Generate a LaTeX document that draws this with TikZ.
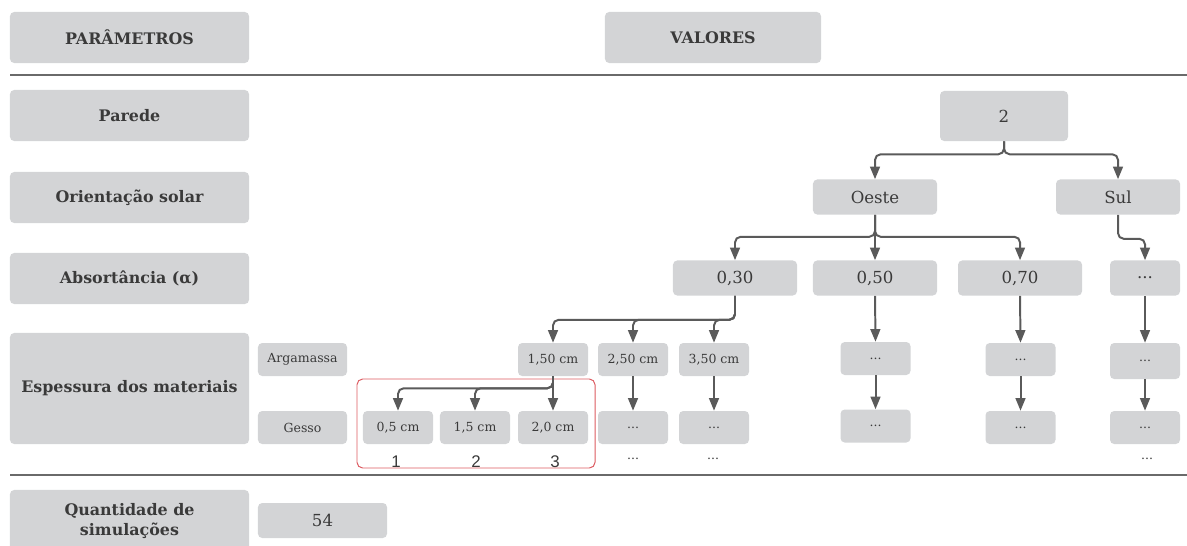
\documentclass[tikz,border=0pt]{standalone}
\usepackage{fontspec}
\setmainfont{DejaVu Serif}
\newfontfamily\numfont{Liberation Sans}
\usetikzlibrary{arrows.meta}
\definecolor{boxgray}{HTML}{D3D4D6}
\definecolor{txtgray}{HTML}{3A3A3A}
\definecolor{arrgray}{HTML}{5A5A5A}
\definecolor{linegray}{HTML}{6A6A6A}
\definecolor{redbox}{HTML}{DC5A60}

\begin{document}
\begin{tikzpicture}[x=0.025cm,y=-0.025cm,
      every node/.style={inner sep=0pt,text=txtgray},
      box/.style={fill=boxgray,rounded corners=3pt,align=center},
      parbox/.style={box,minimum width=5.975cm,minimum height=1.275cm,
        font=\fontsize{11.3}{13.6}\selectfont\bfseries},
      valbox/.style={box,minimum width=3.1cm,minimum height=0.875cm,font=\fontsize{11.8}{14}\selectfont},
      smallbox/.style={box,minimum width=1.75cm,minimum height=0.825cm,font=\fontsize{8.9}{10}\selectfont},
      link/.style={line width=1.4pt,draw=arrgray,rounded corners=4pt,-{Triangle[width=7pt,length=9pt]}},
      sepline/.style={line width=1.3pt,draw=linegray}]
  \useasboundingbox (0,0) rectangle (1187,545);
  \node[parbox] (par) at (129.5,37.5) {PARÂMETROS};
  \node[parbox,minimum width=5.4cm] (val) at (713,37.5) {VALORES};
  \draw[sepline] (10,75) -- (1187,75);
  \draw[sepline] (10,475) -- (1187,475);
  \node[parbox] (parede) at (129.5,115.5) {Parede};
  \node[parbox] (orient) at (129.5,197.5) {Orientação solar};
  \node[parbox] (absor) at (129.5,278.5) {Absortância (α)};
  \node[parbox,minimum height=2.775cm] (esp) at (129.5,388.5) {Espessura dos materiais};
  \node[parbox,minimum height=1.55cm] (qtd) at (129.5,521) {Quantidade de\\simulações};
  \node[valbox,minimum width=3.2cm,minimum height=1.25cm] (two) at (1004,116) {2};
  \node[valbox] (oeste) at (875,197) {Oeste};
  \node[valbox] (sul) at (1118,197) {Sul};
  \node[valbox] (a30) at (735,278) {0,30};
  \node[valbox] (a50) at (875,278) {0,50};
  \node[valbox] (a70) at (1020,278) {0,70};
  \node[valbox,minimum width=1.75cm] (adots) at (1145,278) {...};
  \node[smallbox,minimum width=2.225cm] (arg) at (302.5,359.5) {Argamassa};
  \node[smallbox,minimum width=2.225cm] (ges) at (302.5,427.5) {Gesso};
  \node[smallbox] (m150) at (553,359.5) {1,50 cm};
  \node[smallbox] (m250) at (633,359.5) {2,50 cm};
  \node[smallbox] (m350) at (714,359.5) {3,50 cm};
  \node[smallbox] (md50) at (875.5,358.5) {...};
  \node[smallbox] (md70) at (1020.5,359.5) {...};
  \node[smallbox,minimum height=0.9cm] (mdsul) at (1145,361) {...};
  \node[smallbox] (g05) at (398,427.5) {0,5 cm};
  \node[smallbox] (g15) at (475,427.5) {1,5 cm};
  \node[smallbox] (g20) at (553,427.5) {2,0 cm};
  \node[smallbox] (g250) at (633,427.5) {...};
  \node[smallbox] (g350) at (714,427.5) {...};
  \node[smallbox] (gd50) at (875.5,426) {...};
  \node[smallbox] (gd70) at (1020.5,427.5) {...};
  \node[smallbox] (gdsul) at (1145,427.5) {...};
  \node[font=\numfont\fontsize{12}{14}\selectfont] (n1) at (396,462) {1};
  \node[font=\numfont\fontsize{12}{14}\selectfont] (n2) at (476,462) {2};
  \node[font=\numfont\fontsize{12}{14}\selectfont] (n3) at (555,462) {3};
  \node[font=\fontsize{8.9}{10}\selectfont] (e1) at (633,459) {...};
  \node[font=\fontsize{8.9}{10}\selectfont] (e2) at (713,459) {...};
  \node[font=\fontsize{8.9}{10}\selectfont] (e3) at (1147,459) {...};
  \node[smallbox,minimum width=3.225cm,minimum height=0.875cm,font=\fontsize{11.8}{14}\selectfont] (q54) at (322.5,520.5) {54};
  \draw[redbox,line width=0.7pt,rounded corners=4pt] (357,379) rectangle (595,468);
  \draw[link] (two.south) -- ++(0,13) -| (oeste.north);
  \draw[link] (two.south) -- ++(0,13) -| (sul.north);
  \draw[link] (oeste.south) -- ++(0,22) -| (a30.north);
  \draw[link] (oeste.south) -- (a50.north);
  \draw[link] (oeste.south) -- ++(0,22) -| (a70.north);
  \draw[link] (sul.south) -- ++(0,24) -| (adots.north);
  \draw[link] (a30.south) -- ++(0,24) -| (m150.north);
  \draw[link] (a30.south) -- ++(0,24) -| (m250.north);
  \draw[link] (a30.south) -- ++(0,24) -| (m350.north);
  \draw[link] (a50.south) -- (md50.north);
  \draw[link] (a70.south) -- (md70.north);
  \draw[link] (adots.south) -- (mdsul.north);
  \draw[link] (m150.south) -- ++(0,12) -| (g05.north);
  \draw[link] (m150.south) -- ++(0,12) -| (g15.north);
  \draw[link] (m150.south) -- (g20.north);
  \draw[link] (m250.south) -- (g250.north);
  \draw[link] (m350.south) -- (g350.north);
  \draw[link] (md50.south) -- (gd50.north);
  \draw[link] (md70.south) -- (gd70.north);
  \draw[link] (mdsul.south) -- (gdsul.north);
\end{tikzpicture}
\end{document}
